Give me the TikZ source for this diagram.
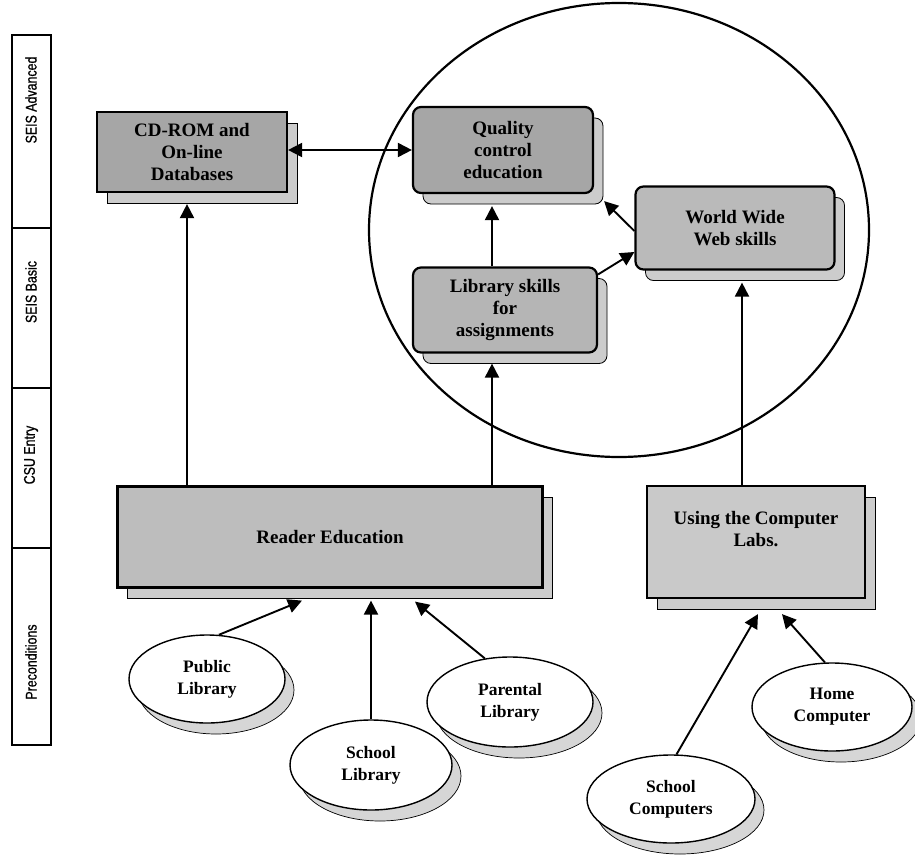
\documentclass[tikz,border=0pt]{standalone}
\usepackage{fontspec}
\setmainfont{Liberation Serif}
\setsansfont{Liberation Sans}
\newfontfamily\condsans[FakeStretch=0.8,FakeBold=0.8]{Liberation Sans}
\usetikzlibrary{arrows.meta,shapes.geometric,shadows}
\begin{document}
\begin{tikzpicture}[x=1pt,y=-1pt,
  box/.style={draw=black, line width=2.2pt, inner sep=0pt, align=center,
    font=\fontsize{19}{22}\selectfont\bfseries},
  rbox/.style={box, rounded corners=8pt},
  shad/.style={general shadow={shadow xshift=10pt, shadow yshift=-11pt,
    fill=gray!40, draw=black, line width=0.8pt}},
  oval/.style={ellipse, draw=black, line width=1.4pt, fill=white, inner sep=0pt,
    align=center, font=\fontsize{17.5}{22}\selectfont\bfseries,
    general shadow={shadow xshift=9pt, shadow yshift=-11pt, fill=gray!32, draw=black, line width=0.7pt}},
  rowlab/.style={rotate=90, font=\condsans\fontsize{15.5}{17}\selectfont},
  arr/.style={line width=1.9pt, -{Triangle[length=14pt,width=14pt]}},
  arrtwo/.style={line width=1.9pt, {Triangle[length=14pt,width=14pt]}-{Triangle[length=14pt,width=14pt]}}
]
\useasboundingbox (0,0) rectangle (915,856);
\fill[white] (0,0) rectangle (915,856);

% level column
\draw[line width=1.3pt] (12,35) rectangle (51,745);
\draw[line width=1.3pt] (12,228) -- (51,228);
\draw[line width=1.3pt] (12,388) -- (51,388);
\draw[line width=1.3pt] (12,548) -- (51,548);
\node[rowlab] (ladv) at (31,100) {SEIS Advanced};
\node[rowlab] (lbas) at (31,292) {SEIS Basic};
\node[rowlab] (lcsu) at (31,455) {CSU Entry};
\node[rowlab] (lpre) at (31,662) {Preconditions};

% big circle
\draw[line width=2.2pt] (619,230) ellipse [x radius=250, y radius=227];

% boxes
\node[box, shad, fill=gray!70, minimum width=190pt, minimum height=80pt] (cd) at (192,152) {CD-ROM and\\On-line\\Databases};
\node[rbox, shad, fill=gray!70, minimum width=180pt, minimum height=86pt] (q) at (503,150) {Quality\\control\\education};
\node[rbox, shad, fill=gray!58, minimum width=184pt, minimum height=85pt] (lib) at (505,310) {Library skills\\for\\assignments};
\node[rbox, shad, fill=gray!54, minimum width=199pt, minimum height=83pt] (www) at (735,228) {World Wide\\Web skills};
\node[box, shad, fill=gray!52, minimum width=425pt, minimum height=101pt] (re) at (330,537) {Reader Education};
\node[box, shad, fill=gray!42, minimum width=218pt, minimum height=112pt, text depth=26pt] (labs) at (756,542) {Using the Computer\\Labs.};

% ovals
\node[oval, minimum width=156pt, minimum height=88pt] (pub) at (207,679) {Public\\Library};
\node[oval, minimum width=162pt, minimum height=90pt] (slib) at (371,765) {School\\Library};
\node[oval, minimum width=166pt, minimum height=90pt] (par) at (510,702) {Parental\\Library};
\node[oval, minimum width=168pt, minimum height=88pt] (scomp) at (671,799) {School\\Computers};
\node[oval, minimum width=160pt, minimum height=88pt] (home) at (832,707) {Home\\Computer};

% connectors
\draw[arrtwo] (cd.east |- q.west) -- (q.west);
\draw[arr, shorten >=11pt] ([xshift=-5pt]cd.south |- re.north) -- ([xshift=-5pt]cd.south);
\draw[arr, shorten >=10pt] ([xshift=-13pt]lib.south |- re.north) -- ([xshift=-13pt]lib.south);
\draw[arr, shorten >=12pt] ([xshift=-13pt]lib.north) -- ([xshift=-13pt]lib.north |- q.south);
\draw[arr] ([yshift=-8pt]lib.north east) -- ([yshift=-24pt]www.west);
\draw[arr] ([yshift=-3pt]www.west) -- ([shift={(10pt,-7pt)}]q.south east);
\draw[arr, shorten >=12pt] ([xshift=7pt]www.south |- labs.north) -- ([xshift=7pt]www.south);
\draw[arr] (pub.75) -- ([shift={(-28pt,-12pt)}]re.south);
\draw[arr, shorten >=12pt] (slib.north) -- (slib.north |- re.south);
\draw[arr] (par.120) -- ([shift={(85pt,-13pt)}]re.south);
\draw[arr] (scomp.83) -- ([shift={(2pt,-15pt)}]labs.south);
\draw[arr] (home.99) -- ([shift={(26pt,-15pt)}]labs.south);
\end{tikzpicture}
\end{document}
